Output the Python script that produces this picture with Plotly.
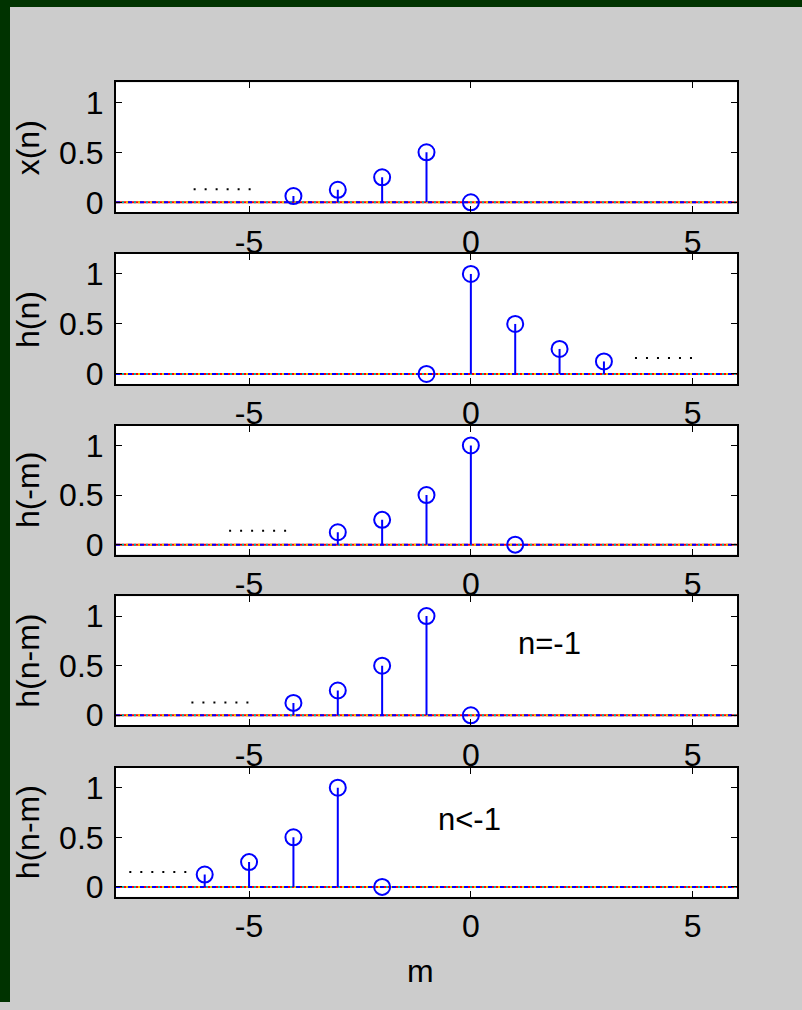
import plotly.graph_objects as go

# ---- data ----
panel_labels = ["x(n)", "h(n)", "h(-m)", "h(n-m)", "h(n-m)"]
m_vals = [
    [-4, -3, -2, -1, 0],
    [-1, 0, 1, 2, 3],
    [-3, -2, -1, 0, 1],
    [-4, -3, -2, -1, 0],
    [-6, -5, -4, -3, -2],
]
y_vals = [
    [0.0625, 0.125, 0.25, 0.5, 0.0],
    [0.0, 1.0, 0.5, 0.25, 0.125],
    [0.125, 0.25, 0.5, 1.0, 0.0],
    [0.125, 0.25, 0.5, 1.0, 0.0],
    [0.125, 0.25, 0.5, 1.0, 0.0],
]
# continuation dots (x start, x end, y level)
dots_x = [[-6.25, -4.9], [3.7, 5.05], [-5.45, -4.05], [-6.3, -4.95], [-7.7, -6.25]]
dots_y = [0.13, 0.16, 0.14, 0.13, 0.15]
notes = [None, None, None, ("n=-1", 1.78, 0.72), ("n<-1", -0.02, 0.68)]
x_ticks = [-5, 0, 5]
x_ticktext = ["-5", "0", "5"]
y_ticks = [0, 0.5, 1]
y_ticktext = ["0", "0.5", "1"]
x_range = [-8, 6]
y_range = [-0.1, 1.2]

W, H = 802, 1010
px_x = (116, 737)
px_y = [(83, 214), (256, 387), (429, 559), (601, 731), (774, 904)]

fig = go.Figure()
FONT = "Liberation Sans, Arial, sans-serif"
fs = 32

for i in range(5):
    xa = "x" if i == 0 else f"x{i+1}"
    ya = "y" if i == 0 else f"y{i+1}"
    # baseline (multicolour dashed)
    for col, dash in [("#ff0000", "solid"), ("#0000ff", "4px,8px"),
                      ("#00b4b4", "0px,6px,2px,4px"), ("#e6c800", "0px,10px,2px,0px")]:
        fig.add_trace(go.Scatter(x=x_range, y=[0, 0], mode="lines",
                                 line=dict(color=col, width=2, dash=dash),
                                 xaxis=xa, yaxis=ya, showlegend=False, hoverinfo="skip"))
    # stems
    sx, sy = [], []
    for mv, yv in zip(m_vals[i], y_vals[i]):
        sx += [mv, mv, None]
        sy += [0, yv, None]
    fig.add_trace(go.Scatter(x=sx, y=sy, mode="lines", line=dict(color="#0000ff", width=2),
                             xaxis=xa, yaxis=ya, showlegend=False, hoverinfo="skip"))
    fig.add_trace(go.Scatter(x=m_vals[i], y=y_vals[i], mode="markers",
                             marker=dict(symbol="circle-open", size=16, color="#0000ff",
                                         line=dict(width=2, color="#0000ff")),
                             xaxis=xa, yaxis=ya, showlegend=False))
    # continuation dots
    fig.add_trace(go.Scatter(x=dots_x[i], y=[dots_y[i]] * 2, mode="lines",
                             line=dict(color="black", width=2, dash="2px,9px"),
                             xaxis=xa, yaxis=ya, showlegend=False, hoverinfo="skip"))
    y0, y1 = px_y[i]
    dom_y = [1 - y1 / H, 1 - y0 / H]
    fig.update_layout(**{
        ("xaxis" if i == 0 else f"xaxis{i+1}"): dict(
            domain=[px_x[0] / W, px_x[1] / W], range=x_range, anchor=ya,
            tickvals=x_ticks, ticktext=x_ticktext, ticks="inside", ticklen=6,
            tickcolor="black",
            showline=True, linecolor="black", linewidth=2, mirror="ticks",
            showgrid=False, zeroline=False,
            tickfont=dict(family=FONT, size=fs, color="black")),
        ("yaxis" if i == 0 else f"yaxis{i+1}"): dict(
            domain=dom_y, range=y_range, anchor=xa,
            tickvals=y_ticks, ticktext=y_ticktext, ticks="inside", ticklen=6,
            tickcolor="black", showline=True, linecolor="black", linewidth=2,
            mirror="ticks", showgrid=False, zeroline=False, ticklabelstandoff=4,
            tickfont=dict(family=FONT, size=fs, color="black")),
    })
    fig.add_annotation(text=panel_labels[i], x=28 / W, y=1 - (y0 + y1) / 2 / H,
                       xref="paper", yref="paper", textangle=-90, showarrow=False,
                       xanchor="center", yanchor="middle",
                       font=dict(family=FONT, size=fs, color="black"))
    if notes[i]:
        t, nx, ny = notes[i]
        fig.add_annotation(text=t, x=nx, y=ny, xref=xa, yref=ya, showarrow=False,
                           xanchor="center", yanchor="middle",
                           font=dict(family=FONT, size=31, color="black"))

fig.add_annotation(text="m", x=420 / W, y=1 - 979 / H, xref="paper", yref="paper",
                   showarrow=False, xanchor="center", yanchor="middle",
                   font=dict(family=FONT, size=fs, color="black"))

# dark green border strips
fig.add_shape(type="rect", xref="paper", yref="paper", x0=0, x1=10 / W, y0=0, y1=1,
              fillcolor="#003300", line=dict(width=0), layer="above")
fig.add_shape(type="rect", xref="paper", yref="paper", x0=0, x1=1, y0=1 - 7 / H, y1=1,
              fillcolor="#003300", line=dict(width=0), layer="above")

fig.update_layout(width=W, height=H, margin=dict(l=0, r=0, t=0, b=0),
                  paper_bgcolor="#cccccc", plot_bgcolor="white")
fig.write_html(
    "out.html",
    config={"displayModeBar": False},
    post_script=("document.body.style.margin='0';"
                 "document.body.style.background='#cccccc';"
                 "document.documentElement.style.background='#cccccc';"),
)
